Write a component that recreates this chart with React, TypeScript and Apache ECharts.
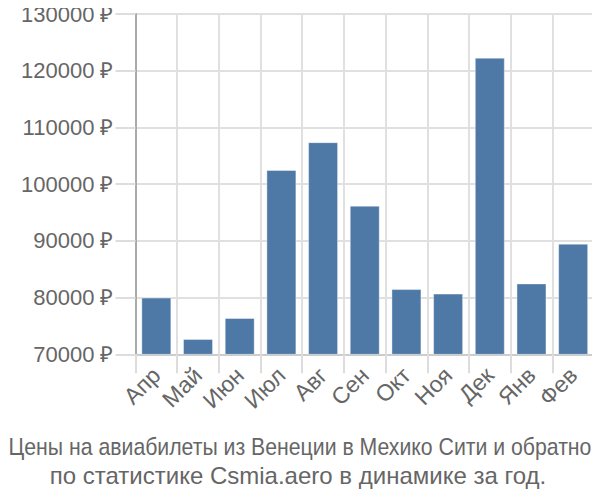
import React, { useEffect, useRef } from "react";
import * as echarts from "echarts";

const categories = ["Апр", "Май", "Июн", "Июл", "Авг", "Сен", "Окт", "Ноя", "Дек", "Янв", "Фев"];
const prices = [80000, 72700, 76400, 102500, 107400, 96200, 81500, 80700, 122300, 82500, 89500];
const yTicks = { min: 70000, max: 130000, interval: 10000 };
const titleLines = [
  "Цены на авиабилеты из Венеции в Мехико Сити и обратно",
  "по статистике Csmia.aero в динамике за год.",
];

export default function App() {
  const ref = useRef<HTMLDivElement>(null);
  useEffect(() => {
    if (!ref.current) return;
    const chart = echarts.init(ref.current, null, { renderer: "svg" });
    const font = "'Liberation Sans', Arial, sans-serif";
    chart.setOption({
      animation: false,
      textStyle: { fontFamily: font },
      graphic: [
        {
          type: "text",
          x: 300,
          y: 446.5,
          scaleX: 0.885,
          silent: true,
          style: {
            text: titleLines[0],
            fill: "#666",
            font: `24px ${font}`,
            align: "center",
            verticalAlign: "middle",
          },
        },
        {
          type: "text",
          x: 298,
          y: 475,
          silent: true,
          style: {
            text: titleLines[1],
            fill: "#666",
            font: `24px ${font}`,
            align: "center",
            verticalAlign: "middle",
          },
        },
      ],
      grid: { left: 135.5, right: 6, top: 14, bottom: 145.7 },
      xAxis: {
        type: "category",
        data: categories,
        axisLine: { show: true, lineStyle: { color: "#ccc", width: 2 } },
        axisTick: { show: true, length: 19, lineStyle: { color: "#ddd", width: 2 } },
        splitLine: { show: true, lineStyle: { color: "#e0e0e0", width: 2 } },
        axisLabel: { rotate: 45, fontSize: 23, color: "#666", margin: 17, interval: 0 },
      },
      yAxis: {
        type: "value",
        min: yTicks.min,
        max: yTicks.max,
        interval: yTicks.interval,
        axisLine: { show: true, lineStyle: { color: "#aaa", width: 2 } },
        axisTick: { show: true, length: 20, lineStyle: { color: "#ddd", width: 2 } },
        splitLine: { show: true, lineStyle: { color: "#e0e0e0", width: 2 } },
        axisLabel: { fontSize: 22, color: "#666", margin: 22, formatter: (v: number) => `${v} ₽` },
      },
      series: [
        {
          type: "bar",
          data: prices,
          barCategoryGap: "28%",
          itemStyle: { color: "#4e79a7", borderColor: "rgba(255,255,255,0.4)", borderWidth: 1 },
        },
      ],
    });
    return () => chart.dispose();
  }, []);
  return <div ref={ref} style={{ width: 600, height: 500, margin: -8 }} />;
}
